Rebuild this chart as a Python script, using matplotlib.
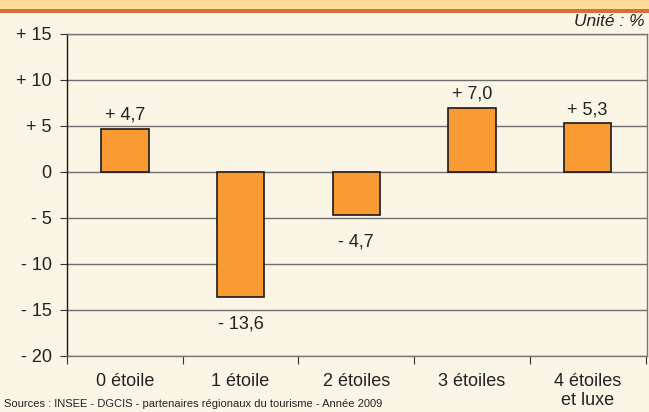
import matplotlib
matplotlib.use("Agg")
import matplotlib.pyplot as plt
from matplotlib.patches import Rectangle

categories = ["0 étoile", "1 étoile", "2 étoiles", "3 étoiles", "4 étoiles\net luxe"]
values = [4.7, -13.6, -4.7, 7.0, 5.3]
value_labels = ["+ 4,7", "- 13,6", "- 4,7", "+ 7,0", "+ 5,3"]
yticks = [15, 10, 5, 0, -5, -10, -15, -20]
ytick_labels = ["+ 15", "+ 10", "+ 5", "0", "- 5", "- 10", "- 15", "- 20"]

plt.rcParams['font.family'] = ['Liberation Sans', 'DejaVu Sans']
BG = "#FBF5E6"
W, H = 649, 412
fig = plt.figure(figsize=(W/100, H/100), dpi=100, facecolor=BG)

# top bands
fig.patches.append(Rectangle((0, 1 - 10/H), 1, 10/H, transform=fig.transFigure,
                             facecolor="#FDDC9B", edgecolor="none"))
fig.patches.append(Rectangle((0, 1 - 13/H), 1, 3.5/H, transform=fig.transFigure,
                             facecolor="#D4713A", edgecolor="none"))

x0, x1 = 67/W, 647/W
y_top, y_bot = 34, 356
ax = fig.add_axes([x0, 1 - y_bot/H, x1 - x0, (y_bot - y_top)/H])
ax.set_facecolor(BG)
ax.set_xlim(-0.5, 4.5 + 0.5*(650-647)/116)
ax.set_ylim(-20, 15)

FS = 13
for y in yticks:
    ax.axhline(y, color="#6E6E6E", lw=1.0, zorder=1)

xs = list(range(len(categories)))
ax.bar(xs, values, width=0.41, color="#F99A33", edgecolor="#1A1A1A", lw=1.2, zorder=3)

for x, v, lab in zip(xs, values, value_labels):
    if v >= 0:
        ax.text(x, v + 0.55, lab, ha="center", va="bottom", fontsize=FS, color="#222222")
    else:
        ax.text(x, v - 1.95, lab, ha="center", va="top", fontsize=FS, color="#222222")

ax.set_yticks(yticks)
ax.set_yticklabels(ytick_labels, fontsize=FS, color="#222222")
ax.tick_params(axis="y", length=5, width=0.8, color="#333333", pad=6)

ax.set_xticks([x - 0.5 for x in xs] + [4.5])
ax.set_xticklabels([])
ax.tick_params(axis="x", length=6, width=0.8, color="#333333", direction="out")
for x, c in zip(xs, categories):
    ax.text(x, -21.9, c, ha="center", va="top", fontsize=FS, color="#222222",
            linespacing=1.15)

ax.spines["left"].set_color("#1A1A1A")
ax.spines["left"].set_linewidth(1.0)
for s in ["top", "right", "bottom"]:
    ax.spines[s].set_color("#777777")
    ax.spines[s].set_linewidth(1.0)

fig.text(645/W, 1 - 22/H, "Unité : %", ha="right", va="center", fontsize=12.5,
         style="italic", color="#222222")
fig.text(4/W, 1 - 404/H, "Sources : INSEE - DGCIS - partenaires régionaux du tourisme - Année 2009",
         ha="left", va="center", fontsize=8, color="#222222")

fig.savefig("out.png", dpi=100, facecolor=BG)
